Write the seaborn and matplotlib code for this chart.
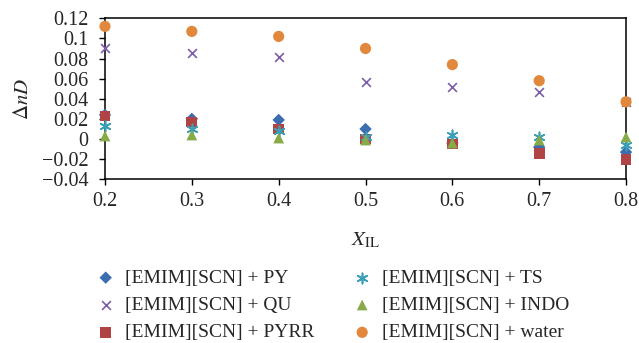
import matplotlib
matplotlib.use("Agg")
import matplotlib.pyplot as plt
import numpy as np
import pandas as pd
import seaborn as sns

# mole fraction of ionic liquid
x_il = [0.2, 0.3, 0.4, 0.5, 0.6, 0.7, 0.8]

# deviation in refractive index for each binary system
py = [0.024, 0.020, 0.019, 0.010, -0.004, -0.008, -0.013]
qu = [0.090, 0.086, 0.082, 0.057, 0.052, 0.047, 0.037]
pyrr = [0.023, 0.017, 0.010, 0.000, -0.005, -0.014, -0.020]
ts = [0.013, 0.010, 0.008, 0.002, 0.004, 0.002, -0.006]
indo = [0.003, 0.004, 0.001, -0.001, -0.004, -0.001, 0.002]
water = [0.112, 0.107, 0.102, 0.090, 0.074, 0.058, 0.037]

names = ["[EMIM][SCN] + PY", "[EMIM][SCN] + QU", "[EMIM][SCN] + PYRR",
         "[EMIM][SCN] + TS", "[EMIM][SCN] + INDO", "[EMIM][SCN] + water"]
series = [py, qu, pyrr, ts, indo, water]

df = pd.concat([pd.DataFrame({"x": x_il, "y": s, "system": n})
                for n, s in zip(names, series)], ignore_index=True)

colors = ["#3c6db0", "#7b5ea7", "#b04444", "#3a9fb8", "#86ab48", "#e2883c"]
marks = ["D", "x", "s", (6, 2, 0), "^", "o"]
sizes = [40, 40, 60, 55, 60, 65]

sns.set_style("white")
plt.rcParams["font.family"] = ["Liberation Serif", "DejaVu Serif"]
plt.rcParams["mathtext.fontset"] = "stix"

fig = plt.figure(figsize=(6.39, 3.43), dpi=100)
ax = fig.add_axes([0.1643, 0.4773, 0.8154, 0.4693])

for n, c, m, sz in zip(names, colors, marks, sizes):
    sub = df[df["system"] == n]
    lw = 1.2 if m in ("x", (6, 2, 0)) else 0
    sns.scatterplot(data=sub, x="x", y="y", ax=ax, color=c, marker=m, s=sz,
                    linewidth=lw, edgecolor=c if lw else "none", label=n,
                    clip_on=False, zorder=3)

ax.set_xlim(0.2, 0.8)
ax.set_ylim(-0.04, 0.12)
ax.set_xticks(x_il)
ax.set_xticklabels(["0.2", "0.3", "0.4", "0.5", "0.6", "0.7", "0.8"])
yt = np.round(np.arange(-0.04, 0.121, 0.02), 2)
ax.set_yticks(yt)
ax.set_yticklabels(["\u22120.04", "\u22120.02", "0", "0.02", "0.04", "0.06",
                    "0.08", "0.1", "0.12"])
ax.tick_params(axis="both", direction="out", length=4, width=1, color="black",
               labelsize=14.5, left=True, bottom=True)
ax.tick_params(axis="x", pad=5)
ax.tick_params(axis="y", pad=8)
for sp in ax.spines.values():
    sp.set_color("black")
    sp.set_linewidth(1.1)

ax.set_xlabel(r"$X_{\mathrm{IL}}$", fontsize=15, labelpad=14)
ax.set_ylabel(r"$\Delta nD$", fontsize=15, labelpad=6)

ax.get_legend().remove()
h, l = ax.get_legend_handles_labels()
fig.legend(h, l, loc="upper left", bbox_to_anchor=(0.135, 0.238), ncol=2,
           frameon=False, fontsize=14, handletextpad=0.4, columnspacing=1.85,
           labelspacing=0.5, borderaxespad=0, handlelength=1.2)

fig.savefig("out.png", dpi=100)
